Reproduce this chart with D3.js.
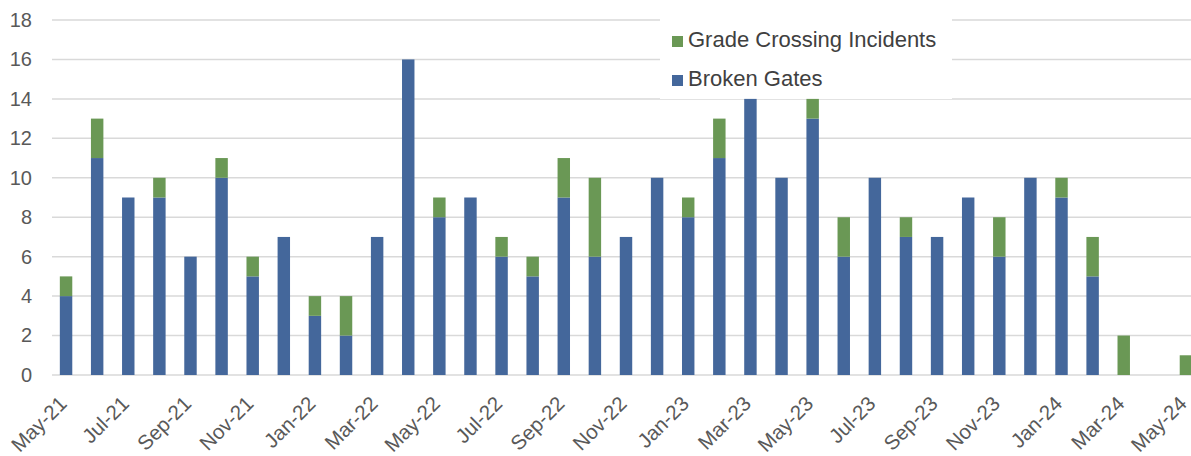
<!DOCTYPE html>
<html>
<head>
<meta charset="utf-8">
<style>
    body { margin: 0; background: #fff; }
    svg { display: block; font-family: 'Liberation Sans', Arial, sans-serif; }
    .y .tick text { fill: #595959; font-size: 20px; }
    .x .tick text { fill: #595959; font-size: 20.5px; }
    .grid line { stroke: #d9d9d9; stroke-width: 1.5; }
    .legend text { fill: #404040; font-size: 22px; }
</style>
</head>
<body>
<svg width="1191" height="456"></svg>

<script src="https://d3js.org/d3.v7.min.js"></script>
<script>
    // months May-21 .. May-24
    let months = ["May-21","Jun-21","Jul-21","Aug-21","Sep-21","Oct-21","Nov-21","Dec-21",
        "Jan-22","Feb-22","Mar-22","Apr-22","May-22","Jun-22","Jul-22","Aug-22","Sep-22","Oct-22","Nov-22","Dec-22",
        "Jan-23","Feb-23","Mar-23","Apr-23","May-23","Jun-23","Jul-23","Aug-23","Sep-23","Oct-23","Nov-23","Dec-23",
        "Jan-24","Feb-24","Mar-24","Apr-24","May-24"];

    let brokenGates = [4,11,9,9,6,10,5,7, 3,2,7,16,8,9,6,5,9,6,7,10, 8,11,14,10,13,6,10,7,7,9,6,10, 9,5,0,0,0];
    let gradeCrossing = [1,2,0,1,0,1,1,0, 1,2,0,0,1,0,1,1,2,4,0,0, 1,2,0,0,1,2,0,1,0,0,2,0, 1,2,2,0,1];

    let yTicks = [0,2,4,6,8,10,12,14,16,18];
    let keys = ["Broken Gates", "Grade Crossing Incidents"];
    let colors = ["#44679b", "#6a9855"];

    let data = months.map((m, i) => ({
        month: m,
        "Broken Gates": brokenGates[i],
        "Grade Crossing Incidents": gradeCrossing[i]
    }));

    let svg = d3.select("svg");

    let x = d3.scaleBand()
        .domain(months)
        .range([50.5, 1201.5])
        .paddingInner(0.6)
        .paddingOuter(0.3);

    let y = d3.scaleLinear()
        .domain([0, 18])
        .range([375, 20]);

    let color = d3.scaleOrdinal().domain(keys).range(colors);

    // gridlines
    svg.append("g")
        .attr("class", "grid")
        .selectAll("line")
        .data(yTicks)
        .join("line")
        .attr("x1", 52)
        .attr("x2", 1191)
        .attr("y1", d => y(d))
        .attr("y2", d => y(d));

    // y axis labels
    svg.append("g")
        .attr("class", "y axis")
        .attr("transform", "translate(42,0)")
        .call(d3.axisLeft(y).tickValues(yTicks).tickSize(0).tickPadding(10))
        .call(g => g.select(".domain").remove());

    // legend background covers the gridlines behind it
    svg.append("rect")
        .attr("x", 660)
        .attr("y", 12)
        .attr("width", 292)
        .attr("height", 87)
        .attr("fill", "#fff");

    let series = d3.stack().keys(keys)(data);

    svg.append("g")
        .selectAll("g")
        .data(series)
        .join("g")
        .attr("fill", d => color(d.key))
        .selectAll("rect")
        .data(d => d)
        .join("rect")
        .attr("x", d => x(d.data.month))
        .attr("width", x.bandwidth())
        .attr("y", d => y(d[1]))
        .attr("height", d => y(d[0]) - y(d[1]));

    // x axis labels, every second month
    let xAxis = svg.append("g")
        .attr("class", "x axis")
        .attr("transform", "translate(0,375)")
        .call(d3.axisBottom(x).tickValues(months.filter((m, i) => i % 2 == 0)).tickSize(0))
        .call(g => g.select(".domain").remove());

    xAxis.selectAll(".tick text")
        .attr("text-anchor", "end")
        .attr("dy", null)
        .attr("y", 0)
        .attr("transform", "translate(2,30) rotate(-45)");

    // legend
    let legendItems = [
        { key: "Grade Crossing Incidents", y: 47 },
        { key: "Broken Gates", y: 86 }
    ];

    let legend = svg.append("g").attr("class", "legend")
        .selectAll("g")
        .data(legendItems)
        .join("g");

    legend.append("rect")
        .attr("x", 672)
        .attr("y", d => d.y - 11)
        .attr("width", 11)
        .attr("height", 11)
        .attr("fill", d => color(d.key));

    legend.append("text")
        .attr("x", 688)
        .attr("y", d => d.y)
        .text(d => d.key);
</script>
</body>
</html>
